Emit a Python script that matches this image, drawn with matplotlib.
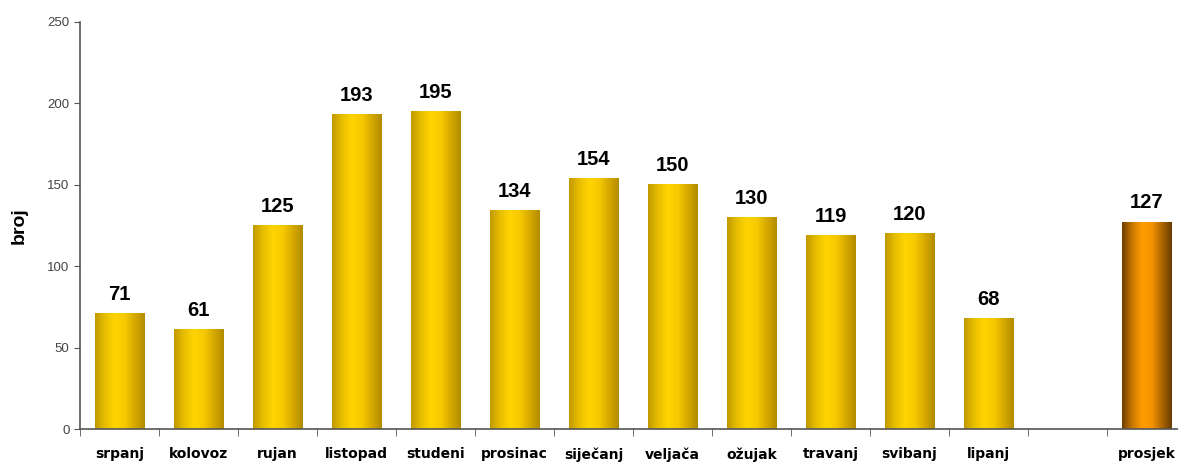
import matplotlib.pyplot as plt
import numpy as np
from matplotlib.colors import LinearSegmentedColormap

# 数据
mjeseci = ["srpanj", "kolovoz", "rujan", "listopad", "studeni", "prosinac",
           "siječanj", "veljača", "ožujak", "travanj", "svibanj", "lipanj",
           "", "prosjek"]
broj = [71, 61, 125, 193, 195, 134, 154, 150, 130, 119, 120, 68, None, 127]

zlatna = LinearSegmentedColormap.from_list(
    "zlatna", ["#c29a00", "#e8bf00", "#ffd400", "#f6c900", "#d6aa00", "#b38c00"])
narancasta = LinearSegmentedColormap.from_list(
    "narancasta", ["#6e4000", "#c97800", "#ff9c00", "#f59400", "#b06800", "#6a3e00"])

fig = plt.figure(figsize=(11.78, 4.63), dpi=100)
ax = fig.add_axes([80 / 1178, 34 / 463, 1106 / 1178, 407 / 463])

x = np.arange(len(mjeseci))
vrijednosti = [v if v is not None else 0 for v in broj]
stupci = ax.bar(x, vrijednosti, width=0.63, color="none", edgecolor="none")

gradijent = np.linspace(0, 1, 64).reshape(1, -1)
for i, (st, v) in enumerate(zip(stupci, broj)):
    if v is None:
        continue
    x0 = st.get_x()
    cmap = narancasta if mjeseci[i] == "prosjek" else zlatna
    ax.imshow(gradijent, cmap=cmap, aspect="auto", extent=[x0, x0 + st.get_width(), 0, v],
              zorder=2)
    ax.text(i, v + 6, str(v), ha="center", va="bottom", fontsize=14.5,
            fontweight="bold", family="Liberation Sans")

ax.set_xlim(-0.5, len(mjeseci) - 0.5)
ax.set_ylim(0, 250)
ax.set_yticks([0, 50, 100, 150, 200, 250])
ax.set_xticks(x)
ax.set_xticklabels(mjeseci, fontsize=10, fontweight="bold", family="DejaVu Sans")
ax.set_xticks(np.arange(-0.5, len(mjeseci)), minor=True)
ax.tick_params(axis="x", which="major", length=0, pad=13)
ax.tick_params(axis="x", which="minor", length=5, color="#555555", direction="out")
ax.tick_params(axis="y", length=4, color="#555555", labelsize=9.5, labelcolor="#444444")
for lbl in ax.get_yticklabels():
    lbl.set_family("Liberation Sans")

ax.set_ylabel("broj", fontsize=14, fontweight="bold", family="Liberation Sans", labelpad=14)

for s in ["top", "right"]:
    ax.spines[s].set_visible(False)
for s in ["left", "bottom"]:
    ax.spines[s].set_color("#555555")
    ax.spines[s].set_linewidth(1.2)

plt.savefig("out.png", dpi=100)
